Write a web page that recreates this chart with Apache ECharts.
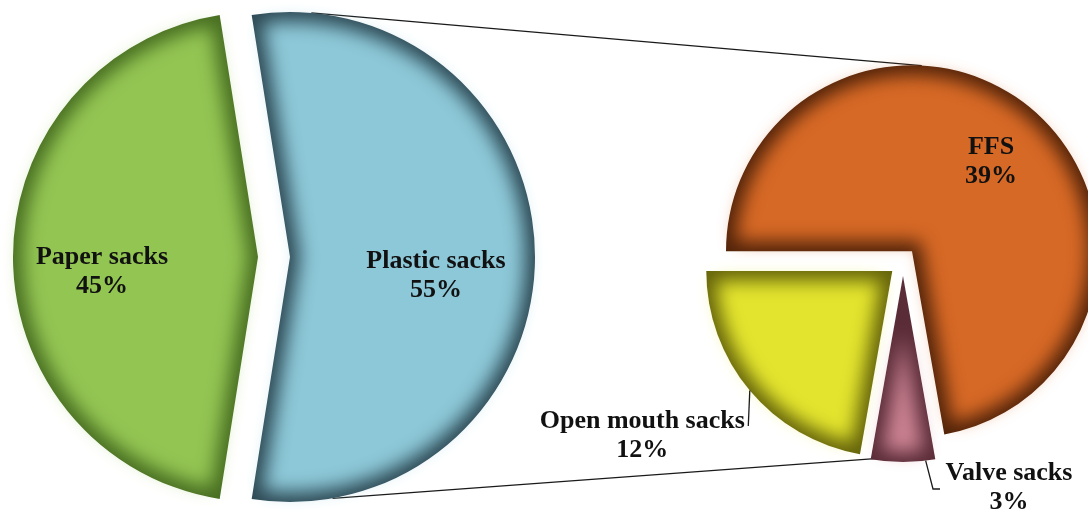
<!DOCTYPE html>
<html>
<head>
<meta charset="utf-8">
<script src="https://cdn.jsdelivr.net/npm/echarts@6/dist/echarts.min.js"></script>
<style>
html,body{margin:0;padding:0;background:#ffffff;}
#chart{width:1088px;height:516px;}
</style>
</head>
<body>
<div id="chart"></div>
<script>
// ---------------- data ----------------
const primaryNames = ['Plastic sacks', 'Paper sacks'];
const primaryValues = [55, 45];
const secondaryNames = ['FFS', 'Valve sacks', 'Open mouth sacks'];
const secondaryValues = [39, 3, 12];

// ---------------- layout / style ----------------
const PIE1 = {cx: 274, cy: 257, r: 245, offset: 16, startAngle: 99};
const PIE2 = {cx: 903, cy: 262, r: 186, offset: 14, startAngle: 180};
const FILL = {
  'Plastic sacks':    ['#8DC8D8', '#2E4A55'],
  'Paper sacks':      ['#93C553', '#486E22'],
  'FFS':              ['#D76926', '#52240A'],
  'Valve sacks':      ['#CB8292', '#5A2C38'],
  'Open mouth sacks': ['#E3E42E', '#66650C']
};
// label centre offsets relative to the (exploded) slice centre
const LABEL_POS = {
  'Plastic sacks': [146, 19],
  'Paper sacks': [-156, 15],
  'FFS': [79, -89],
  'Open mouth sacks': [-250, 165],
  'Valve sacks': [106, 212]
};
// leader lines: first point on the slice rim (angle as fraction of the slice span), rest relative to slice centre
const LEADERS = {
  'Open mouth sacks': {rim: 0.5, pts: [[-144, 155]]},
  'Valve sacks': {rim: 0.15, pts: [[30, 213], [37, 213]]}
};
const INSET = 10, BLUR = 18, SHIFT = 3000;
const FONT = 'bold 26px "Liberation Serif"';
const LINE_H = 29;

const RAD = Math.PI / 180;
function sliceGeom(geom, values) {
  const total = values.reduce((a, b) => a + b, 0);
  let a = geom.startAngle;
  return values.map(v => {
    const span = v / total * 360;
    const a0 = a, a1 = a - span; a = a1;
    const mid = (a0 + a1) / 2 * RAD;
    return {a0, a1, span, mid,
      cx: geom.cx + geom.offset * Math.cos(mid),
      cy: geom.cy - geom.offset * Math.sin(mid), r: geom.r};
  });
}
function insetPoly(s, t) {
  const alpha = s.span / 2 * RAD;
  const ux = Math.cos(s.mid), uy = -Math.sin(s.mid);
  const e = t / Math.sin(alpha);
  const vx = s.cx + e * ux, vy = s.cy + e * uy;
  const R = s.r - t;
  const L = -e * Math.cos(alpha) + Math.sqrt(R * R - t * t);
  const p0 = [vx + L * Math.cos(s.a0 * RAD), vy - L * Math.sin(s.a0 * RAD)];
  const p1 = [vx + L * Math.cos(s.a1 * RAD), vy - L * Math.sin(s.a1 * RAD)];
  let f0 = Math.atan2(-(p0[1] - s.cy), p0[0] - s.cx) / RAD;
  let f1 = Math.atan2(-(p1[1] - s.cy), p1[0] - s.cx) / RAD;
  while (f0 - s.a0 > 180) f0 -= 360; while (s.a0 - f0 > 180) f0 += 360;
  while (f1 - s.a1 > 180) f1 -= 360; while (s.a1 - f1 > 180) f1 += 360;
  const pts = [[vx, vy], p0];
  const n = Math.max(8, Math.ceil(Math.abs(f0 - f1) / 2));
  for (let i = 1; i < n; i++) {
    const f = (f0 + (f1 - f0) * i / n) * RAD;
    pts.push([s.cx + R * Math.cos(f), s.cy - R * Math.sin(f)]);
  }
  pts.push(p1);
  return pts;
}
function polar(s, deg, r) {
  return [s.cx + r * Math.cos(deg * RAD), s.cy - r * Math.sin(deg * RAD)];
}

const slices1 = sliceGeom(PIE1, primaryValues);
const slices2 = sliceGeom(PIE2, secondaryValues);

function pieSeries(geom, names, values) {
  return {
    type: 'pie', z: 2, silent: true, animation: false,
    center: [geom.cx, geom.cy], radius: geom.r, startAngle: geom.startAngle,
    clockwise: true, selectedMode: 'multiple', selectedOffset: geom.offset,
    label: {show: false}, labelLine: {show: false},
    itemStyle: {borderWidth: 0},
    data: names.map((n, i) => ({name: n, value: values[i], selected: true,
      itemStyle: {color: FILL[n][1]}}))
  };
}

const graphics = [];
// inner-shadow shading: blurred inset copy of each slice, painted only through its shadow
[[slices1, primaryNames], [slices2, secondaryNames]].forEach(([sl, names]) => {
  sl.forEach((s, i) => {
    const light = FILL[names[i]][0];
    graphics.push({
      type: 'polygon', x: SHIFT, z: 5, silent: true,
      shape: {points: insetPoly(s, INSET)},
      style: {fill: light, shadowBlur: BLUR, shadowColor: light, shadowOffsetX: -SHIFT}
    });
  });
});
// data labels and leader lines
[[slices1, primaryNames, primaryValues], [slices2, secondaryNames, secondaryValues]].forEach(([sl, names, vals]) => {
  sl.forEach((s, i) => {
    const n = names[i];
    const lp = LABEL_POS[n];
    graphics.push({
      type: 'text', z: 10, silent: true, x: s.cx + lp[0], y: s.cy + lp[1],
      style: {text: n + '\n' + vals[i] + '%', font: FONT, fill: '#111111', lineHeight: LINE_H,
        align: 'center', verticalAlign: 'middle', textAlign: 'center', textVerticalAlign: 'middle'}
    });
    const ld = LEADERS[n];
    if (ld) {
      const ang = s.a0 - (s.a0 - s.a1) * ld.rim;
      const pts = [polar(s, ang, s.r)].concat(ld.pts.map(q => [s.cx + q[0], s.cy + q[1]]));
      graphics.push({type: 'polyline', z: 10, silent: true, shape: {points: pts},
        style: {stroke: '#1a1a1a', lineWidth: 1.3, fill: null}});
    }
  });
});
// series lines connecting the primary split slice with the secondary pie
const CONNECT = [
  {from: [slices1, 0, 85], to: [slices2, 0, 87]},
  {from: [slices1, 0, -80], to: [slices2, 2, 272]}
];
CONNECT.forEach(c => {
  const sa = c.from[0][c.from[1]], sb = c.to[0][c.to[1]];
  const a = polar(sa, c.from[2], sa.r);
  const b = polar(sb, c.to[2], sb.r);
  graphics.push({type: 'line', z: 1, silent: true,
    shape: {x1: a[0], y1: a[1], x2: b[0], y2: b[1]},
    style: {stroke: '#1a1a1a', lineWidth: 1.3}});
});

const chart = echarts.init(document.getElementById('chart'), null, {renderer: 'canvas'});
chart.setOption({
  animation: false,
  backgroundColor: '#ffffff',
  series: [
    pieSeries(PIE1, primaryNames, primaryValues),
    pieSeries(PIE2, secondaryNames, secondaryValues)
  ],
  graphic: graphics
});
</script>
</body>
</html>
